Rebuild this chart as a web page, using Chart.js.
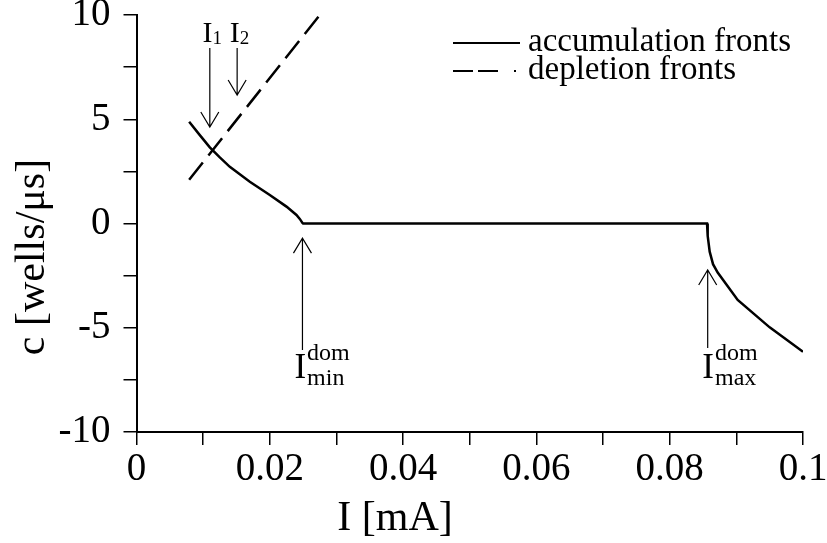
<!DOCTYPE html>
<html>
<head>
<meta charset="utf-8">
<script src="https://cdn.jsdelivr.net/npm/chart.js@4/dist/chart.umd.min.js"></script>
<style>
  html, body { margin: 0; padding: 0; background: #fff; }
  #wrap { width: 827px; height: 543px; }
</style>
</head>
<body>
<div id="wrap"><canvas id="frontChart"></canvas></div>
<script>
// front velocity c [wells/us] against current I [mA]
const accumI = [0.0079, 0.0095, 0.011, 0.0125, 0.014, 0.017, 0.020, 0.0225, 0.024, 0.0245, 0.0249, 0.025,
                0.0856, 0.0857, 0.086, 0.0865, 0.0872, 0.0902, 0.095, 0.100];
const accumC = [4.88, 4.24, 3.65, 3.17, 2.72, 2.00, 1.37, 0.81, 0.41, 0.22, 0.03, 0,
                0, -0.6, -1.35, -1.95, -2.35, -3.67, -4.98, -6.15];
const deplI = [0.0079, 0.0275];
const deplC = [2.1, 10];

const seriesNames = ['accumulation fronts', 'depletion fronts'];
const xTickLabels = ['0', '0.02', '0.04', '0.06', '0.08', '0.1'];
const yTickLabels = ['-10', '-5', '0', '5', '10'];

// arrows marking I1, I2, I_min^dom, I_max^dom
const arrowI = [0.011, 0.0151, 0.0249, 0.0857];
const arrowTail = [8.42, 8.42, -6.07, -5.97];
const arrowHead = [4.63, 6.16, -0.70, -2.23];
const noteI = [0.0099, 0.0140, 0.0237, 0.0849];
const noteC = [8.70, 8.70, -7.41, -7.41];
const noteSub = ['1', '2', 'min', 'max'];
const noteSup = ['', '', 'dom', 'dom'];

const SERIF = '"Liberation Serif", "Times New Roman", serif';

const toPoints = (xs, ys) => xs.map((v, i) => ({ x: v, y: ys[i] }));

const frontNotes = {
  id: 'frontNotes',
  afterDraw(chart) {
    const { ctx, scales: { x, y } } = chart;
    ctx.save();
    ctx.fillStyle = '#000';
    ctx.strokeStyle = '#000';

    // arrows
    ctx.lineWidth = 1.2;
    arrowI.forEach((v, i) => {
      const px = x.getPixelForValue(v);
      const y0 = y.getPixelForValue(arrowTail[i]);
      const y1 = y.getPixelForValue(arrowHead[i]);
      const dir = Math.sign(y1 - y0);
      ctx.beginPath();
      ctx.moveTo(px, y0);
      ctx.lineTo(px, y1);
      ctx.moveTo(px - 9, y1 - dir * 15);
      ctx.lineTo(px, y1);
      ctx.lineTo(px + 9, y1 - dir * 15);
      ctx.stroke();
    });

    // arrow labels
    ctx.textBaseline = 'alphabetic';
    ctx.textAlign = 'left';
    noteI.forEach((v, i) => {
      const big = noteSup[i] !== '';
      const lx = x.getPixelForValue(v);
      const ly = y.getPixelForValue(noteC[i]);
      ctx.font = (big ? 35 : 30) + 'px ' + SERIF;
      ctx.fillText('I', lx, ly);
      const w = ctx.measureText('I').width;
      ctx.font = (big ? 24 : 19) + 'px ' + SERIF;
      ctx.fillText(noteSub[i], lx + w + (big ? 1 : 0), ly + (big ? 7 : 2));
      if (big) ctx.fillText(noteSup[i], lx + w + 1, ly - 18);
    });

    // legend
    const ds = chart.data.datasets;
    ctx.font = '33px ' + SERIF;
    ds.forEach((d, i) => {
      const ly = 43 + i * 28;
      ctx.lineWidth = 2;
      ctx.setLineDash(i === 0 ? [] : [20, 5, 20, 16, 2, 100]);
      ctx.beginPath();
      ctx.moveTo(453, ly);
      ctx.lineTo(520, ly);
      ctx.stroke();
      ctx.setLineDash([]);
      ctx.fillText(d.label, 528, ly + 8);
    });

    // axis titles
    ctx.font = '42px ' + SERIF;
    ctx.textAlign = 'center';
    ctx.fillText('I [mA]', 395, 530);
    ctx.translate(33, 257);
    ctx.rotate(-Math.PI / 2);
    ctx.textBaseline = 'middle';
    ctx.fillText('c [wells/\u03bcs]', 0, 0);
    ctx.restore();
  }
};

new Chart(document.getElementById('frontChart'), {
  type: 'line',
  data: {
    datasets: [
      {
        label: seriesNames[0],
        data: toPoints(accumI, accumC),
        borderColor: '#000',
        borderWidth: 2.5,
        pointRadius: 0,
        tension: 0
      },
      {
        label: seriesNames[1],
        data: toPoints(deplI, deplC),
        borderColor: '#000',
        borderWidth: 2.5,
        borderDash: [22, 9],
        pointRadius: 0,
        tension: 0
      }
    ]
  },
  options: {
    responsive: true,
    maintainAspectRatio: false,
    animation: false,
    layout: { padding: { left: 0, right: 24, top: 15, bottom: 0 } },
    plugins: { legend: { display: false }, tooltip: { enabled: false } },
    scales: {
      x: {
        type: 'linear',
        min: 0,
        max: 0.1,
        ticks: {
          stepSize: 0.01,
          autoSkip: false,
          maxRotation: 0,
          padding: 1,
          color: '#000',
          font: { family: SERIF, size: 39 },
          callback: (v, i) => (i % 2 === 0 ? xTickLabels[i / 2] : '')
        },
        grid: { drawOnChartArea: false, tickLength: 13, color: '#000', lineWidth: 1.5 },
        border: { display: true, color: '#000', width: 2 },
        afterFit: s => { s.height = 111; s.paddingLeft = 0; s.paddingRight = 0; }
      },
      y: {
        min: -10,
        max: 10,
        ticks: {
          stepSize: 2.5,
          autoSkip: false,
          padding: 13,
          color: '#000',
          font: { family: SERIF, size: 39 },
          callback: (v, i) => (i % 2 === 0 ? yTickLabels[i / 2] : '')
        },
        grid: { drawOnChartArea: false, tickLength: 13, color: '#000', lineWidth: 1.5 },
        border: { display: true, color: '#000', width: 2 },
        afterFit: s => { s.width = 136.5; s.paddingTop = 0; s.paddingBottom = 0; }
      }
    }
  },
  plugins: [frontNotes]
});
</script>
</body>
</html>
